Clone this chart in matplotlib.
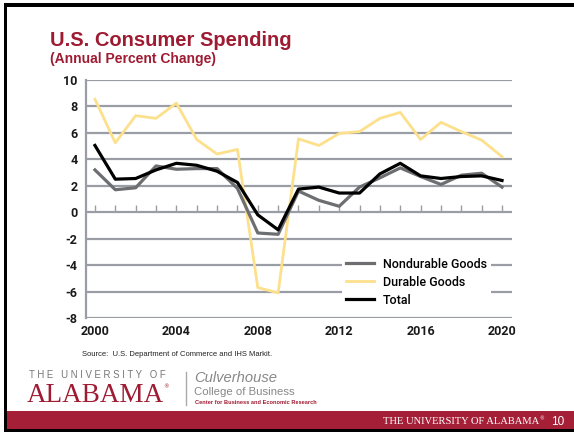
import matplotlib.pyplot as plt
from matplotlib.patches import Rectangle
from matplotlib.lines import Line2D

plt.rcParams['axes.unicode_minus'] = False

years = list(range(2000, 2021))
nondurable = [3.2, 1.7, 1.85, 3.5, 3.25, 3.3, 3.3, 1.8, -1.57, -1.67, 1.6,
              0.9, 0.45, 1.9, 2.6, 3.35, 2.7, 2.1, 2.8, 2.95, 1.9]
durable = [8.55, 5.25, 7.3, 7.1, 8.25, 5.5, 4.4, 4.75, -5.7, -6.1, 5.55,
           5.05, 5.95, 6.1, 7.1, 7.55, 5.5, 6.8, 6.1, 5.45, 4.2]
total = [5.05, 2.5, 2.55, 3.2, 3.7, 3.55, 3.1, 2.25, -0.2, -1.33, 1.75,
         1.9, 1.45, 1.45, 2.9, 3.7, 2.75, 2.55, 2.7, 2.75, 2.4]
yticks = [10, 8, 6, 4, 2, 0, -2, -4, -6, -8]
xticks = [2000, 2004, 2008, 2012, 2016, 2020]

crimson = '#9e1b32'
grid_c = '#9a9ea4'

W, H = 574, 432
fig = plt.figure(figsize=(W / 100, H / 100), dpi=100)
fig.patch.set_facecolor('white')

def px(x, y):
    return x / W, 1 - y / H

ax = fig.add_axes([86 / W, 1 - 318 / H, (512 - 86) / W, (318 - 80) / H])
ax.set_xlim(1999.56, 2020.49)
ax.set_ylim(-8, 10)

for v in yticks:
    ax.axhline(v, color=grid_c, lw=1.6, zorder=1)
ax.vlines(years, 0, 0.55, color=grid_c, lw=1.0, zorder=1)

ax.plot(years, nondurable, color='#6d6e71', lw=2.3, label='Nondurable Goods', zorder=3)
ax.plot(years, durable, color='#fde08c', lw=2.0, label='Durable Goods', zorder=2)
ax.plot(years, total, color='black', lw=2.3, label='Total', zorder=4)

for s in ['top', 'right', 'bottom']:
    ax.spines[s].set_visible(False)
ax.spines['left'].set_color(grid_c)
ax.spines['left'].set_linewidth(1.6)
ax.set_yticks(yticks)
ax.set_xticks(xticks)
ax.tick_params(length=0, labelsize=9, colors='#1a1a1a', pad=6)
ax.tick_params(axis='x', pad=5)
for lab in ax.get_xticklabels() + ax.get_yticklabels():
    lab.set_fontweight('bold')
    lab.set_family('Roboto')

leg = ax.legend(loc='lower right', bbox_to_anchor=(0.965, 0.005), frameon=True,
                handlelength=2.3, handletextpad=0.7,
                labelspacing=0.4, borderpad=0.3,
                prop={'family': 'Roboto', 'size': 9, 'weight': 'medium'})
leg.get_frame().set_facecolor('white')
leg.get_frame().set_edgecolor('none')
leg.get_frame().set_alpha(1)

# slide title
fig.text(*px(50, 40), 'U.S. Consumer Spending', fontsize=14.5, fontweight='bold',
         color=crimson, family='Liberation Sans', va='center')
fig.text(*px(50, 59), '(Annual Percent Change)', fontsize=10, fontweight='bold',
         color=crimson, family='Liberation Sans', va='center')

fig.text(*px(82, 355), 'Source:  U.S. Department of Commerce and IHS Markit.',
         fontsize=5.5, family='Liberation Sans', va='center', color='#222222')

# university logo
fig.text(*px(29, 375), 'T H E   U N I V E R S I T Y   O F', fontsize=6.9,
         color='#777777', family='Liberation Sans', va='center')
fig.text(*px(27, 395), 'ALABAMA', fontsize=19.5, color=crimson,
         family='Liberation Serif', va='center')
fig.text(*px(163, 387), '®', fontsize=4, color=crimson, va='center')
fig.add_artist(Line2D([186 / W, 186 / W], [1 - 372 / H, 1 - 405 / H],
                      color='#aaaaaa', lw=1))
fig.text(*px(194, 378), 'Culverhouse', fontsize=10.6, style='italic',
         color='#888888', family='Liberation Sans', va='center')
fig.text(*px(194, 392), 'College of Business', fontsize=8.2,
         color='#888888', family='Liberation Sans', va='center')
fig.text(*px(195, 403), 'Center for Business and Economic Research', fontsize=4.1,
         fontweight='bold', color=crimson, family='Liberation Sans', va='center')

# footer band and frame
fig.add_artist(Rectangle((6 / W, 0), 1, (432 - 411) / H, transform=fig.transFigure,
                         color='#a51f37', lw=0))
fig.text(*px(383, 422), 'THE UNIVERSITY OF ALABAMA', fontsize=7.6,
         color='white', family='Liberation Serif', va='center')
fig.text(*px(539, 419), '®', fontsize=3.5, color='white', va='center')
fig.text(*px(551, 422), '10', fontsize=8.5, color='white',
         family='Liberation Sans', va='center')
fig.add_artist(Rectangle((4 / W, 1 - 7 / H), 1, 4 / H, transform=fig.transFigure,
                         color='black', lw=0))
fig.add_artist(Rectangle((4 / W, 0), 3 / W, 1 - 3 / H, transform=fig.transFigure,
                         color='black', lw=0))
fig.add_artist(Rectangle((4 / W, 0), 1, 3 / H, transform=fig.transFigure,
                         color='black', lw=0))

fig.savefig('out.png', dpi=100)
